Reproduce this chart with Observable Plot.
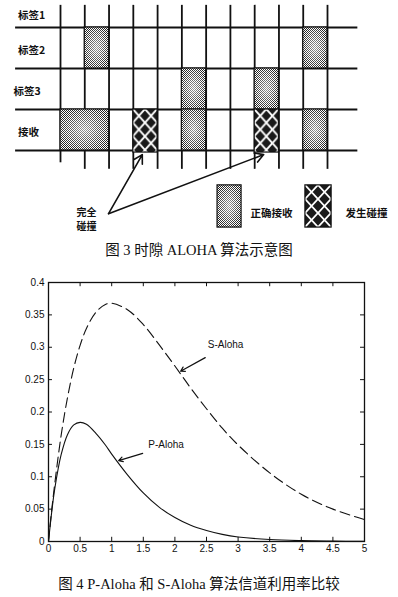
<!DOCTYPE html>
<html><head><meta charset="utf-8">
<script src="https://cdn.jsdelivr.net/npm/d3@7"></script>
<script src="https://cdn.jsdelivr.net/npm/@observablehq/plot@0.6"></script>
<style>
body{margin:0;background:#fff;}
#root{position:relative;width:398px;height:597px;overflow:hidden;background:#fff;}
#root svg{position:absolute;left:0;}
.cap{position:absolute;left:0;width:398px;text-align:center;font-family:"Liberation Serif","DejaVu Serif","Noto Sans CJK SC",serif;font-size:14px;color:#111;white-space:nowrap;}
</style></head><body><div id="root"></div>
<script>
// ---------- Figure 3 data (time-slot diagram) ----------
const rowLabels = ["标签1", "标签2", "标签3", "接收"];
const slotLines = [0, 1, 2, 3, 4, 5, 6, 7, 8, 9, 10, 11];
const tagBursts = [{row: 1, start: 1}, {row: 1, start: 10}, {row: 2, start: 5}, {row: 2, start: 8}];
const rxOk = [{start: 0, end: 2}, {start: 5, end: 6}, {start: 10, end: 11}];
const rxCollision = [3, 8];
const legendItems = ["正确接收", "发生碰撞"];
const noteLines = ["完全", "碰撞"];
const caption3 = "图 3 时隙 ALOHA 算法示意图";

// ---------- Figure 4 data (channel utilisation) ----------
const load   = [0, 0.05, 0.1, 0.2, 0.3, 0.4, 0.5, 0.6, 0.75, 0.9, 1, 1.25, 1.5, 1.75, 2, 2.25, 2.5, 2.75, 3, 3.5, 4, 4.5, 5];
const sAloha = [0, 0.048, 0.09, 0.164, 0.222, 0.268, 0.303, 0.329, 0.354, 0.366, 0.368, 0.358, 0.335, 0.304, 0.271, 0.237, 0.205, 0.175, 0.149, 0.106, 0.073, 0.05, 0.034];
const pAloha = [0, 0.045, 0.082, 0.134, 0.165, 0.18, 0.184, 0.181, 0.167, 0.149, 0.135, 0.103, 0.075, 0.053, 0.037, 0.025, 0.017, 0.011, 0.007, 0.003, 0.0013, 0.0006, 0.0002];
const xTicks = [0, 0.5, 1, 1.5, 2, 2.5, 3, 3.5, 4, 4.5, 5];
const yTicks = [0, 0.05, 0.1, 0.15, 0.2, 0.25, 0.3, 0.35, 0.4];
const seriesNames = ["S-Aloha", "P-Aloha"];
const caption4 = "图 4 P-Aloha 和 S-Aloha 算法信道利用率比较";

const root = document.getElementById("root");
const ink = "#111";

// ---------- Figure 3 ----------
const fig3 = Plot.plot({
  width: 398, height: 238, margin: 0,
  x: {domain: [0, 11], range: [60, 327], axis: null},
  y: {domain: [0, 3], range: [27, 150], axis: null},
  style: {background: "transparent", fontFamily: "'Noto Sans CJK SC', sans-serif", color: ink},
  marks: [
    Plot.ruleY([0, 1, 2, 3], {y: d => d, x1: -1.85, x2: 12.25, stroke: ink, strokeWidth: 1.8}),
    Plot.ruleX(slotLines, {x: d => d, y1: -0.54, y2: d => d === 0 ? 3.3 : 3.46, stroke: ink, strokeWidth: 1.8,
      strokeDasharray: d => d === 0 ? null : "9,4"}),
    Plot.rect(tagBursts, {x1: d => d.start, x2: d => d.start + 1, y1: d => d.row - 1, y2: d => d.row, fill: "url(#stip)", stroke: ink, strokeWidth: 1.2}),
    Plot.rect(tagBursts, {x1: d => d.start, x2: d => d.start + 1, y1: d => d.row - 1, y2: d => d.row, fill: "url(#glow)"}),
    Plot.rect(rxOk, {x1: "start", x2: "end", y1: 2, y2: 3, fill: "url(#stip)", stroke: ink, strokeWidth: 1.2}),
    Plot.rect(rxOk, {x1: "start", x2: "end", y1: 2, y2: 3, fill: "url(#glow)"}),
    Plot.rect(rxCollision, {x1: d => d, x2: d => d + 1, y1: 2, y2: 3.05, fill: "url(#hx)", stroke: ink, strokeWidth: 1.2}),
    Plot.text(rowLabels, {x: (d, i) => i === 2 ? -1.94 : -1.75, y: (d, i) => i === 0 ? -0.3 : i - 0.43, text: d => d,
      textAnchor: "start", fontSize: 10.5, fontWeight: "bold", fill: ink}),
    // legend
    Plot.rect([0], {x1: 6.47, x2: 7.46, y1: 3.85, y2: 4.88, fill: "url(#stip)", stroke: ink, strokeWidth: 1.2}),
    Plot.rect([0], {x1: 6.47, x2: 7.46, y1: 3.85, y2: 4.88, fill: "url(#glow)"}),
    Plot.rect([0], {x1: 10.09, x2: 11.17, y1: 3.85, y2: 4.88, fill: "url(#hxL)", stroke: ink, strokeWidth: 1.2}),
    Plot.text(legendItems, {x: (d, i) => i === 0 ? 7.83 : 11.74, y: 4.54, text: d => d, textAnchor: "start", fontSize: 10.5, fontWeight: "bold", fill: ink}),
    // note + arrows
    Plot.text(noteLines, {x: 1.07, y: (d, i) => i === 0 ? 4.51 : 4.87, text: d => d, fontSize: 10, fontWeight: "bold", fill: ink}),
    Plot.arrow(rxCollision, {x1: 1.98, y1: 4.54, x2: d => d + 0.37, y2: 3.1, stroke: ink, strokeWidth: 1.6, headLength: 9, bend: 0})
  ]
});
const defs3 = d3.select(fig3).insert("defs", ":first-child");
const st = defs3.append("pattern").attr("id", "stip").attr("patternUnits", "userSpaceOnUse").attr("width", 2).attr("height", 2);
st.append("rect").attr("width", 2).attr("height", 2).attr("fill", "#fff");
st.append("rect").attr("width", 1).attr("height", 1).attr("fill", "#222");
st.append("rect").attr("x", 1).attr("y", 1).attr("width", 1).attr("height", 1).attr("fill", "#222");
const gl = defs3.append("radialGradient").attr("id", "glow").attr("cx", "0.5").attr("cy", "0.5").attr("r", "0.55");
gl.append("stop").attr("offset", "0").attr("stop-color", "#fff").attr("stop-opacity", 0.55);
gl.append("stop").attr("offset", "1").attr("stop-color", "#fff").attr("stop-opacity", 0);
function hatch(id, x0, y0, w, h) {
  const p = defs3.append("pattern").attr("id", id).attr("patternUnits", "userSpaceOnUse")
    .attr("x", x0).attr("y", y0).attr("width", w).attr("height", h);
  p.append("rect").attr("width", w).attr("height", h).attr("fill", "#1a1a1a");
  p.append("path").attr("d", `M0,0L${w},${h}M${w},0L0,${h}`).attr("stroke", "#fff").attr("stroke-width", 1.8);
}
hatch("hx", 60, 109, 267 / 22, 41 / 3);
hatch("hxL", 305, 185, 13, 14);
fig3.style.top = "0px";
root.appendChild(fig3);

const c3 = document.createElement("div");
c3.className = "cap"; c3.style.top = "238px"; c3.style.fontSize = "14.5px"; c3.textContent = caption3;
root.appendChild(c3);

// ---------- Figure 4 ----------
const rows4 = load.map((g, i) => ({g, s: sAloha[i], p: pAloha[i]}));
const fig4 = Plot.plot({
  width: 398, height: 300, marginTop: 17, marginLeft: 48, marginRight: 34, marginBottom: 24,
  x: {domain: [0, 5]},
  y: {domain: [0, 0.4]},
  style: {background: "transparent", fontFamily: "'Liberation Sans', Arial, sans-serif", fontSize: "10px", color: ink},
  marks: [
    Plot.axisX({ticks: xTicks, tickSize: 0, tickPadding: 3, tickFormat: d => String(d), label: null}),
    Plot.axisY({ticks: yTicks, tickSize: 0, tickPadding: 4, tickFormat: d => String(d), label: null}),
    Plot.ruleX(xTicks, {x: d => d, y1: 0, y2: 0.0065, stroke: ink}),
    Plot.ruleX(xTicks, {x: d => d, y1: 0.3935, y2: 0.4, stroke: ink}),
    Plot.ruleY(yTicks, {y: d => d, x1: 0, x2: 0.063, stroke: ink}),
    Plot.ruleY(yTicks, {y: d => d, x1: 4.937, x2: 5, stroke: ink}),
    Plot.line(rows4, {x: "g", y: "s", stroke: ink, strokeWidth: 1.1, strokeDasharray: "10,5", curve: "catmull-rom"}),
    Plot.line(rows4, {x: "g", y: "p", stroke: ink, strokeWidth: 1.1, curve: "catmull-rom"}),
    Plot.frame({stroke: ink, strokeWidth: 1.3}),
    Plot.text(seriesNames, {x: (d, i) => i === 0 ? 2.52 : 1.58, y: (d, i) => i === 0 ? 0.304 : 0.15, text: d => d,
      textAnchor: "start", fontSize: 10, fill: ink}),
    Plot.arrow(seriesNames, {x1: (d, i) => i === 0 ? 2.48 : 1.49, y1: (d, i) => i === 0 ? 0.284 : 0.136,
      x2: (d, i) => i === 0 ? 2.09 : 1.11, y2: (d, i) => i === 0 ? 0.263 : 0.125,
      stroke: ink, strokeWidth: 1.2, headLength: 6, bend: 0})
  ]
});
fig4.style.top = "265px";
root.appendChild(fig4);

const c4 = document.createElement("div");
c4.className = "cap"; c4.style.top = "572px"; c4.style.fontSize = "14.5px"; c4.textContent = caption4;
root.appendChild(c4);
</script></body></html>
